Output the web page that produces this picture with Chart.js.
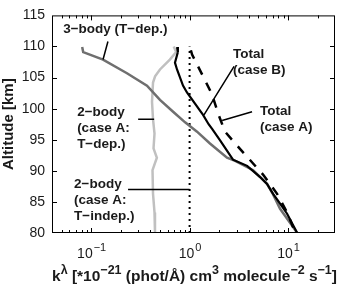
<!DOCTYPE html>
<html><head><meta charset="utf-8">
<script src="https://cdn.jsdelivr.net/npm/chart.js@4/dist/chart.umd.min.js"></script>
<style>html,body{margin:0;padding:0;background:#fff;}</style>
</head><body>
<canvas id="c" width="339" height="284"></canvas>
<script>
// ---- data (k in units of 1e-21, altitude in km) ----
const threeBodyAlt = [109.9, 109.1, 107.9, 105.7, 103.7, 101.4, 99.5, 97.8, 96.3, 94.4, 92.1, 91.6, 90.1, 87.9, 86.2, 83.9, 81.0, 80.0];
const threeBodyK   = [0.081, 0.083, 0.132, 0.231, 0.369, 0.50, 0.68, 0.90, 1.19, 1.61, 2.40, 2.90, 4.42, 6.12, 7.05, 8.30, 11.2, 12.4];

const twoBodyTdepAlt = [110.0, 109.1, 107.9, 106.3, 105.2, 104.2, 101.1, 98.3, 96.0, 93.6, 92.1, 90.1, 86.3, 83.3, 80.0];
const twoBodyTdepK   = [0.69, 0.73, 0.63, 0.50, 0.446, 0.425, 0.415, 0.425, 0.44, 0.43, 0.465, 0.42, 0.425, 0.44, 0.445];

const twoBodyTindepAlt = [80, 110];
const twoBodyTindepK   = [1.0, 1.0];

const totalBAlt = [109.9, 109.1, 107.4, 106.3, 103.7, 102.6, 99.0, 97.5, 96.7, 94.9, 91.8, 90.8, 89.0, 87.9, 86.3, 85.4, 83.1, 80.0];
const totalBK   = [0.745, 0.76, 0.71, 0.745, 0.857, 0.94, 1.37, 1.56, 1.70, 2.04, 2.76, 3.84, 5.2, 6.12, 7.05, 7.74, 9.78, 12.4];

const totalAAlt = [109.4, 108.7, 105.2, 102.3, 99.2, 96.3, 93.9, 89.4, 86.3, 83.3, 80.0];
const totalAK   = [1.03, 1.06, 1.37, 1.69, 1.95, 2.29, 3.10, 5.57, 7.74, 9.78, 11.9];

const yTicks = [80, 85, 90, 95, 100, 105, 110, 115];
const xMajor = [0.1, 1, 10];
const xMajorExp = ['−1', '0', '1'];
const xMinor = [0.04,0.05,0.06,0.07,0.08,0.09,0.2,0.3,0.4,0.5,0.6,0.7,0.8,0.9,2,3,4,5,6,7,8,9,20,30];

const yTitle = 'Altitude [km]';
// [text, isSuperscript]
const xTitleParts = [['k',0],['λ',1],[' [*10',0],['−21',1],[' (phot/Å) cm',0],['3',1],[' molecule',0],['−2',1],[' s',0],['−1',1],[']',0]];

const labelTexts = [
  ['3−body (T−dep.)'],
  ['2−body','(case A:','T−dep.)'],
  ['2−body','(case A:','T−indep.)'],
  ['Total','(case B)'],
  ['Total','(case A)']
];
const labelK   = [0.052, 0.072, 0.067, 2.76, 5.2];
const labelAlt = [112.7, 99.4, 87.9, 108.7, 99.5];
const pointerK   = [[0.148,0.132],[0.30,0.436],[0.237,1.0],[2.83,1.40],[4.31,2.14]];
const pointerAlt = [[110.8,107.9],[98.3,98.3],[87.0,87.0],[106.8,99.0],[99.5,98.1]];

const pts = (ks, alts) => ks.map((k, i) => ({x: k, y: alts[i]}));
const FONT = "'Liberation Sans', Arial, sans-serif";
Chart.defaults.font.family = FONT;

const decor = {
  id: 'decor',
  afterDatasetsDraw(chart) {
    const {ctx, chartArea: a, scales: {x, y}} = chart;
    ctx.save();
    ctx.strokeStyle = '#000';
    ctx.lineWidth = 1;
    ctx.strokeRect(a.left + 0.5, a.top + 0.5, a.right - a.left - 1, a.bottom - a.top - 1);
    ctx.beginPath();
    for (const t of yTicks) {
      if (t <= 80 || t >= 115) continue;
      const py = Math.round(y.getPixelForValue(t)) + 0.5;
      ctx.moveTo(a.left, py); ctx.lineTo(a.left + 5, py);
      ctx.moveTo(a.right, py); ctx.lineTo(a.right - 5, py);
    }
    const xt = (v, len) => {
      const px = Math.round(x.getPixelForValue(v)) + 0.5;
      if (px <= a.left + 1 || px >= a.right - 1) return;
      ctx.moveTo(px, a.bottom); ctx.lineTo(px, a.bottom - len);
      ctx.moveTo(px, a.top); ctx.lineTo(px, a.top + len);
    };
    xMinor.forEach(v => xt(v, 3));
    xMajor.forEach(v => xt(v, 5));
    ctx.stroke();

    // pointer lines
    ctx.lineWidth = 1.5;
    ctx.beginPath();
    pointerK.forEach((pk, i) => {
      ctx.moveTo(x.getPixelForValue(pk[0]), y.getPixelForValue(pointerAlt[i][0]));
      ctx.lineTo(x.getPixelForValue(pk[1]), y.getPixelForValue(pointerAlt[i][1]));
    });
    ctx.stroke();

    // annotation labels
    ctx.fillStyle = '#1a1a1a';
    ctx.font = 'bold 13.5px ' + FONT;
    ctx.textAlign = 'left';
    ctx.textBaseline = 'middle';
    labelTexts.forEach((lines, i) => {
      const px = x.getPixelForValue(labelK[i]);
      const py = y.getPixelForValue(labelAlt[i]);
      lines.forEach((s, j) => ctx.fillText(s, px, py + j * 16));
    });
    ctx.restore();
  },
  afterDraw(chart) {
    const {ctx, chartArea: a, scales: {x}} = chart;
    ctx.save();
    ctx.fillStyle = '#1a1a1a';
    ctx.textBaseline = 'alphabetic';
    ctx.textAlign = 'left';
    // x tick labels with superscripts
    xMajor.forEach((v, i) => {
      const px = x.getPixelForValue(v);
      ctx.font = '14px ' + FONT;
      const wb = ctx.measureText('10').width;
      ctx.font = '11px ' + FONT;
      const ws = ctx.measureText(xMajorExp[i]).width;
      const x0 = px - (wb + ws) / 2;
      ctx.font = '14px ' + FONT;
      ctx.fillText('10', x0, 258);
      ctx.font = '11px ' + FONT;
      ctx.fillText(xMajorExp[i], x0 + wb + 1, 251);
    });
    // x title
    const base = 'bold 15.5px ' + FONT, sup = 'bold 12.5px ' + FONT;
    let total = 0;
    xTitleParts.forEach(([s, up]) => { ctx.font = up ? sup : base; total += ctx.measureText(s).width; });
    let cx = (a.left + a.right) / 2 + 1 - total / 2;
    xTitleParts.forEach(([s, up]) => {
      ctx.font = up ? sup : base;
      ctx.fillText(s, cx, up ? 274 : 281);
      cx += ctx.measureText(s).width;
    });
    ctx.restore();
  }
};

new Chart(document.getElementById('c'), {
  type: 'scatter',
  data: {
    datasets: [
      {label: 'Total (case A)', data: pts(totalAK, totalAAlt), showLine: true, borderColor: '#000', borderWidth: 2.5, borderDash: [9, 9], pointRadius: 0, tension: 0},
      {label: 'Total (case B)', data: pts(totalBK, totalBAlt), showLine: true, borderColor: '#000', borderWidth: 2.2, pointRadius: 0, tension: 0},
      {label: '3-body (T-dep.)', data: pts(threeBodyK, threeBodyAlt), showLine: true, borderColor: '#6f6f6f', borderWidth: 2.5, pointRadius: 0, tension: 0},
      {label: '2-body (case A: T-dep.)', data: pts(twoBodyTdepK, twoBodyTdepAlt), showLine: true, borderColor: '#c0c0c0', borderWidth: 2.5, pointRadius: 0, tension: 0},
      {label: '2-body (case A: T-indep.)', data: pts(twoBodyTindepK, twoBodyTindepAlt), showLine: true, borderColor: '#000', borderWidth: 2, borderDash: [2, 4], pointRadius: 0}
    ]
  },
  options: {
    responsive: false,
    animation: false,
    devicePixelRatio: 1,
    layout: {padding: {top: 7, right: 4, left: 0, bottom: 0}},
    plugins: {legend: {display: false}, tooltip: {enabled: false}},
    scales: {
      x: {
        type: 'logarithmic', min: 0.04, max: 30, position: 'bottom',
        grid: {display: false}, border: {display: false},
        ticks: {display: false},
        afterFit: s => { s.height = 51; }
      },
      y: {
        type: 'linear', min: 80, max: 115,
        afterBuildTicks: s => { s.ticks = yTicks.map(v => ({value: v})); },
        grid: {display: false, drawTicks: false}, border: {display: false},
        ticks: {color: '#1a1a1a', font: {size: 14}, padding: 7},
        title: {display: true, text: yTitle, color: '#1a1a1a', font: {size: 15, weight: 'bold'}, padding: {top: 0, bottom: 0}},
        afterFit: s => { s.width = 52; }
      }
    }
  },
  plugins: [decor]
});
</script>
</body></html>
